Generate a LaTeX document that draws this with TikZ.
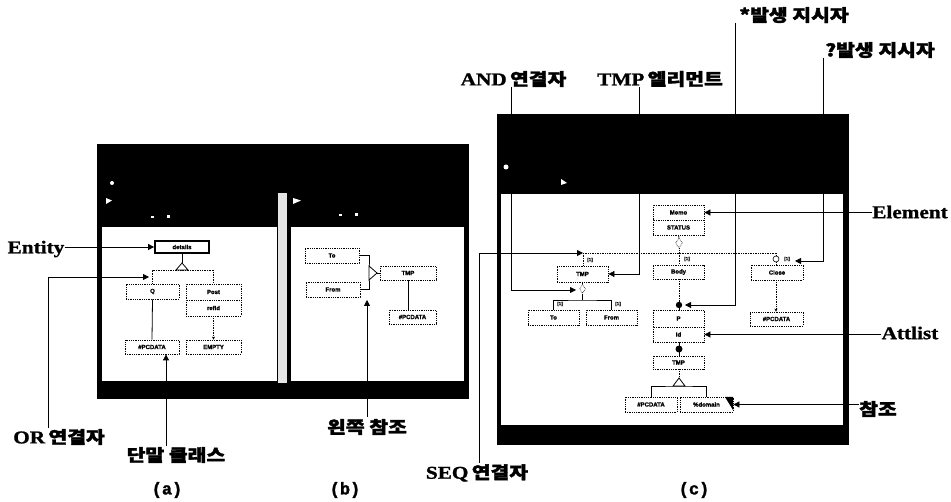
\documentclass[tikz,border=0pt]{standalone}
\usepackage{fontspec}
\newfontfamily\lab[FakeStretch=1.18,FakeBold=1.2]{Liberation Serif}
\newfontfamily\kr[FakeStretch=1.2,FakeBold=2]{Noto Sans CJK KR}
\newfontfamily\boxf[FakeBold=1]{Liberation Sans}
\newfontfamily\monof[FakeBold=1.5]{Liberation Mono}
\usetikzlibrary{arrows.meta,shapes.geometric,calc}
\newcommand\Kr[1]{{\kr\bfseries\fontsize{17}{20}\selectfont #1}}
\newcommand\Lb[1]{{\lab\bfseries\fontsize{18}{20}\selectfont #1}}
\begin{document}
\begin{tikzpicture}[x=1pt,y=-1pt,
  nb/.style={draw, densely dotted, line width=0.8pt, inner sep=0pt, fill=white,
    font=\boxf\bfseries\fontsize{6}{6}\selectfont},
  lbl/.style={inner sep=0pt, anchor=center},
  pt/.style={-{Triangle[length=6pt,width=6pt]}, line width=0.8pt},
  conn/.style={line width=0.8pt},
  dconn/.style={densely dotted, line width=0.7pt},
  mk/.style={font=\boxf\bfseries\fontsize{4.5}{5}\selectfont, inner sep=0.3pt},
  captxt/.style={font=\monof\bfseries\fontsize{17}{18}\selectfont, inner sep=0pt}
]
\useasboundingbox (0,0) rectangle (951,502);
\fill[white] (0,0) rectangle (951,502);

% ---------- frame of panels (a) and (b)
\fill[black] (97,144) rectangle (469,399);
\fill[white] (102,227) rectangle (277,381);
\fill[black!10] (278,193) rectangle (287,383);
\fill[white] (291,227) rectangle (464,381);
\fill[white] (112,183) circle (2);
\fill[white] (106,198) -- (112,200.5) -- (106,204) -- cycle;
\fill[white] (151,216) rectangle (154,218);
\fill[white] (167,215) rectangle (170,218);
\fill[white] (293,198) -- (301,200.5) -- (293,204) -- cycle;
\fill[white] (339,214) rectangle (342,216);
\fill[white] (355,213) rectangle (358,216);

% ---------- frame of panel (c)
\fill[black] (497,114) rectangle (849,445);
\fill[white] (501,194) rectangle (843,425);
\fill[white] (506,167) circle (2.5);
\fill[white] (561,179) -- (567,183) -- (561,185) -- cycle;

% ---------- panel (a)
\node[nb, draw, solid, line width=1.8pt, minimum width=54pt, minimum height=12pt] (det) at (182,247) {details};
\node[nb, minimum width=53pt, minimum height=15pt] (q) at (152.5,291.5) {Q};
\node[nb, minimum width=55pt, minimum height=16pt] (post) at (213.5,292) {Post};
\node[nb, minimum width=55pt, minimum height=16pt] (refid) at (213.5,308) {refId};
\node[nb, minimum width=54pt, minimum height=14pt] (pcda) at (152,347) {\#PCDATA};
\node[nb, minimum width=55pt, minimum height=14pt] (empty) at (213.5,347) {EMPTY};

\coordinate (aor) at (182,263);
\coordinate (abus) at (182,270);
\draw[conn] (det.south) -- (aor);
\draw[dconn] (q.north) |- (abus) -| (post.north);
\draw[conn, fill=white] (176,270) -- (aor) -- (188,270) -- cycle;
\draw[conn] (q.south) -- (pcda.north);
\draw[dconn, -{Stealth[length=3pt,width=3pt]}] (refid.south) -- (empty.north);

% ---------- panel (b)
\node[nb, minimum width=54pt, minimum height=15pt] (tob) at (332,255.5) {To};
\node[nb, minimum width=54pt, minimum height=15pt] (fromb) at (333,289.5) {From};
\node[nb, minimum width=56pt, minimum height=14pt] (tmpb) at (408,273) {TMP};
\node[nb, minimum width=47pt, minimum height=14pt] (pcdb) at (412.5,317) {\#PCDATA};
\coordinate (bbus) at (369,273);
\coordinate (bapex) at (377,273);
\draw[conn] (tob.east) -| (bbus) |- (fromb.east);
\draw[conn, fill=white] (369,266) -- (bapex) -- (369,280) -- cycle;
\draw[conn] (bapex) -- (tmpb.west);
\draw[conn] (tmpb.south -| 408,0) -- (pcdb.north -| 408,0);

% ---------- panel (c)
\node[nb, minimum width=51pt, minimum height=15pt] (memo) at (678.5,212.5) {Memo};
\node[nb, minimum width=51pt, minimum height=15pt] (status) at (678.5,227.5) {STATUS};
\node[draw, densely dotted, line width=0.6pt, diamond, minimum width=7pt, minimum height=10pt, inner sep=0pt] (sd) at (679,243) {};
\node[nb, minimum width=51pt, minimum height=16pt] (tmp1) at (582.5,274) {TMP};
\node[nb, minimum width=51pt, minimum height=14pt] (body) at (678.5,272) {Body};
\node[nb, minimum width=52pt, minimum height=15pt] (close) at (777,272.5) {Close};
\node[draw, densely dotted, line width=0.6pt, diamond, minimum width=6pt, minimum height=9pt, inner sep=0pt] (andd) at (582.5,289) {};
\node[nb, minimum width=51pt, minimum height=15pt] (toc) at (553.5,317.5) {To};
\node[nb, minimum width=51pt, minimum height=15pt] (fromc) at (611.5,317.5) {From};
\node[nb, minimum width=51pt, minimum height=17pt] (pc) at (678.5,318.5) {P};
\node[nb, minimum width=51pt, minimum height=15pt] (idc) at (678.5,334.5) {Id};
\node[nb, minimum width=51pt, minimum height=13pt] (tmp2) at (678.5,362.5) {TMP};
\node[nb, minimum width=52pt, minimum height=15pt] (pcdc) at (651,404.5) {\#PCDATA};
\node[nb, minimum width=53pt, minimum height=15pt] (dom) at (706.5,404.5) {\%domain};
\fill[black] (733,397) -- (733,410) -- (725,397) -- cycle;
\node[nb, minimum width=53pt, minimum height=14pt] (pcdc2) at (776.5,319) {\#PCDATA};

% SEQ connector and bus
\coordinate (sb1) at (583,253);
\coordinate (sbb) at (679,253);
\coordinate (sb2) at (776,253);
\draw[conn] (status.south) -- (sd.north);
\draw[dconn] (sd.south) -- (sbb);
\draw[dconn] (sb1) -- (sb2);
\draw[dconn] (sb1) -- (tmp1.north -| sb1);
\draw[dconn] (sbb) -- (body.north -| sbb);
\draw[dconn] (sb2) -- (776,256);
\draw[line width=0.6pt, fill=white] (776,259) circle (3);
\draw[dconn] (776,262) -- (close.north -| 776,0);
\node[mk] (m1) at (590,260) {[1]};
\node[mk] (m2) at (687,259) {[1]};
\node[mk] (m3) at (787,259) {[1]};

% AND connector and bus
\coordinate (ab) at (582.5,300);
\draw[conn] (tmp1.south) -- (andd.north);
\draw[conn] (andd.south) -- (ab);
\draw[conn] (toc.north) |- (ab) -| (fromc.north);
\node[mk] (m4) at (560,304) {[1]};
\node[mk] (m5) at (618,304) {[1]};

% Body - P, P - TMP, TMP - children
\coordinate (starb) at (679,305);
\draw[dconn] (body.south -| 679,0) -- (starb);
\fill[black] (starb) circle (3.2);
\draw[conn] (starb) -- (pc.north -| 679,0);
\coordinate (plusb) at (679,349);
\draw[conn] (idc.south -| 679,0) -- (tmp2.north -| 679,0);
\fill[black] (plusb) circle (3.5);
\coordinate (cor) at (679,378);
\coordinate (cbus) at (679,386);
\draw[dconn] (tmp2.south -| 679,0) -- (cor);
\draw[conn] (pcdc.north) |- (cbus) -| (dom.north);
\draw[conn, fill=white] (673,386) -- (cor) -- (685,386) -- cycle;
\draw[dconn, -{Stealth[length=3pt,width=3pt]}] (close.south -| 776,0) -- (pcdc2.north -| 776,0);

% ---------- labels of panel (a)
\node[lbl] (ent) at (36,249) {\Lb{Entity}};
\draw[pt] (ent.east |- det.west) -- (det.west);
\node[lbl] (orl) at (59,437) {\Lb{OR} \Kr{연결자}};
\coordinate (orT) at (48,428);
\coordinate (orE) at (149,277);
\draw[pt] (orT) |- (orE);
\node[lbl] (term) at (176,455) {\Kr{단말 클래스}};
\coordinate (termT) at (166,446);
\draw[pt] (termT) -- (termT |- pcda.south);

% ---------- labels of panel (b)
\node[lbl] (left) at (367,427) {\Kr{왼쪽 참조}};
\coordinate (leftT) at (367,417);
\coordinate (leftE) at (367,300);
\draw[pt] (leftT) -- (leftE);

% ---------- labels of panel (c)
\node[lbl] (andl) at (513.5,79) {\Lb{AND} \Kr{연결자}};
\coordinate (andT) at (511,87);
\coordinate (andE) at (576,290);
\draw[pt] (andT) |- (andE);

\node[lbl] (tmpl) at (660,79) {\Lb{TMP} \Kr{엘리먼트}};
\coordinate (tmpT) at (639,87);
\draw[pt] (tmpT) |- (tmp1.east);

\node[lbl] (starl) at (794,15) {\Kr{*발생 지시자}};
\coordinate (starT) at (735,23);
\coordinate (starE) at (685,305);
\draw[pt] (starT) |- (starE);

\node[lbl] (ql) at (880,50) {\Kr{?발생 지시자}};
\coordinate (qT) at (823,58);
\coordinate (qE) at (795,261);
\draw[pt] (qT) |- (qE);

\node[lbl] (elem) at (910,212) {\Lb{Element}};
\draw[pt] (elem.west |- memo.east) -- (memo.east);
\node[lbl] (att) at (910,333) {\Lb{Attlist}};
\draw[pt] (att.west |- idc.east) -- (idc.east);
\node[lbl] (ref) at (878,409) {\Kr{참조}};
\draw[pt] (ref.west |- dom.east) -- (dom.east);

\node[lbl] (seql) at (477,473) {\Lb{SEQ} \Kr{연결자}};
\coordinate (seqT) at (479,463);
\draw[pt] (seqT) |- (sb1);

% ---------- captions
\node[captxt] (ca) at (167,490) {(a)};
\node[captxt] (cb) at (345,490) {(b)};
\node[captxt] (cc) at (694,490) {(c)};
\end{tikzpicture}
\end{document}
